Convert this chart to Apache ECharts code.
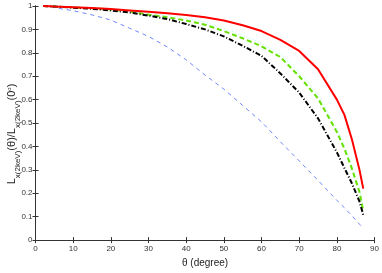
<!DOCTYPE html>
<html>
<head>
<meta charset="utf-8">
<script src="https://cdn.jsdelivr.net/npm/echarts@6/dist/echarts.min.js"></script>
<style>html,body{margin:0;padding:0;background:#fff}#c{width:382px;height:273px}</style>
</head>
<body>
<div id="c"></div>
<script>
const angles = [2,5,10,15,20,25,30,35,40,45,50,55,60,65,70,75,80,82,84,86,87];
const redVals   = [1.0,0.998,0.995,0.991,0.987,0.981,0.975,0.969,0.962,0.952,0.938,0.918,0.893,0.855,0.808,0.730,0.600,0.535,0.430,0.300,0.220];
const cyanVals  = [1.0,0.998,0.996,0.992,0.989,0.982,0.970,0.960,0.947,0.930,0.904,0.874,0.840,0.795,0.716,0.622,0.480,0.405,0.320,0.220,0.140];
const greenVals = [1.0,0.998,0.994,0.990,0.985,0.976,0.963,0.952,0.938,0.920,0.893,0.862,0.828,0.782,0.700,0.605,0.462,0.390,0.305,0.205,0.125];
const blackVals = [1.0,0.998,0.993,0.988,0.981,0.972,0.959,0.944,0.923,0.900,0.870,0.830,0.787,0.712,0.630,0.520,0.375,0.308,0.242,0.165,0.108];
const blueVals  = [1.0,0.993,0.980,0.962,0.940,0.905,0.870,0.825,0.770,0.705,0.645,0.575,0.505,0.420,0.338,0.255,0.170,0.138,0.104,0.068,0.050];
const xTicks = [0,10,20,30,40,50,60,70,80,90];
const yTicks = [0,0.1,0.2,0.3,0.4,0.5,0.6,0.7,0.8,0.9,1];

const pair = v => angles.map((a,i)=>[a,v[i]]);
const font = 'Liberation Sans, Arial, sans-serif';
const chart = echarts.init(document.getElementById('c'), null, {renderer:'canvas'});
const axisLine = {show:true, lineStyle:{color:'#333', width:1}};
chart.setOption({
  animation:false,
  backgroundColor:'#fff',
  grid:{left:35.5, right:7, top:6, bottom:24},
  xAxis:[{
    type:'value', min:xTicks[0], max:xTicks[xTicks.length-1], interval:10,
    axisLine, axisTick:{show:true, inside:true, length:3, lineStyle:{color:'#333'}},
    splitLine:{show:false},
    axisLabel:{fontSize:8, color:'#333', fontFamily:font, margin:5},
    name:'θ (degree)', nameLocation:'middle', nameGap:13,
    nameTextStyle:{fontSize:10, color:'#222', fontFamily:font}
  },{
    type:'value', position:'top', min:0, max:90, interval:10,
    axisLine, axisTick:{show:true, inside:true, length:3, lineStyle:{color:'#333'}},
    axisLabel:{show:false}, splitLine:{show:false}
  }],
  yAxis:[{
    type:'value', min:yTicks[0], max:yTicks[yTicks.length-1], interval:0.1,
    axisLine, axisTick:{show:true, inside:true, length:3, lineStyle:{color:'#333'}},
    splitLine:{show:false},
    axisLabel:{fontSize:8, color:'#333', fontFamily:font, margin:3}
  },{
    type:'value', position:'right', min:0, max:1, interval:0.1,
    axisLine, axisTick:{show:true, inside:true, length:3, lineStyle:{color:'#333'}},
    axisLabel:{show:false}, splitLine:{show:false}
  }],
  graphic:[{
    type:'text', x:14, y:134, rotation:Math.PI/2,
    style:{
      text:'{m|L}{s|x(2keV)}{m|(θ)/L}{s|x(2keV)}{m|(0}{p|o}{m|)}',
      align:'center', verticalAlign:'middle', fontFamily:font,
      rich:{
        m:{fontSize:11, fill:'#222', verticalAlign:'bottom', padding:[0,0,4,0], fontFamily:font},
        s:{fontSize:8, fill:'#222', verticalAlign:'bottom', fontFamily:font},
        p:{fontSize:6, fill:'#222', verticalAlign:'top', fontFamily:font}
      }
    }
  }],
  series:[
    {type:'line', data:pair(blueVals), showSymbol:false, lineStyle:{color:'#6f86ff', width:1, type:[4,4]}, z:2},
    {type:'line', data:pair(cyanVals), showSymbol:false, lineStyle:{color:'#aaffee', width:1, type:[1,2]}, z:3},
    {type:'line', data:pair(greenVals), showSymbol:false, lineStyle:{color:'#66e000', width:2, type:[5,3]}, z:4},
    {type:'line', data:pair(blackVals), showSymbol:false, lineStyle:{color:'#000', width:2, type:[5,2,1,2]}, z:5},
    {type:'line', data:pair(redVals), showSymbol:false, lineStyle:{color:'#ff0000', width:2}, z:6}
  ]
});
</script>
</body>
</html>
